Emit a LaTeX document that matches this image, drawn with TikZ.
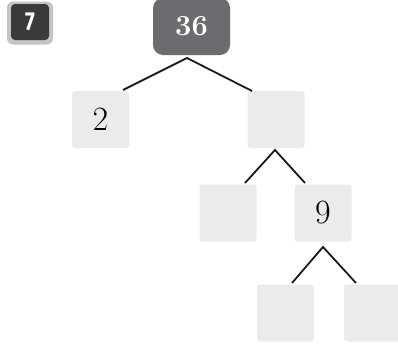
\documentclass[tikz,border=0pt]{standalone}
\usepackage{fontspec}
\newfontfamily\badgefont{Fira Sans}
\definecolor{boxgray}{HTML}{EBEBED}
\definecolor{topgray}{HTML}{6B6B70}
\definecolor{badgedark}{HTML}{3A3A3A}
\definecolor{badgeglow}{HTML}{C4C4C4}
\tikzset{
  numbox/.style={fill=boxgray, rounded corners=3pt, minimum width=57pt, minimum height=57pt, inner sep=0pt, font=\fontsize{34}{34}\selectfont},
  topbox/.style={fill=topgray, rounded corners=10pt, minimum width=77pt, minimum height=57pt, inner sep=0pt, text=white, font=\fontsize{29}{29}\selectfont\bfseries},
  branch/.style={draw=black!90, line width=1.8pt},
}
\begin{document}
\begin{tikzpicture}[x=1pt,y=-1pt]
\useasboundingbox (0,0) rectangle (398,343);
% badge
\node[fill=badgeglow, rounded corners=6pt, minimum width=46pt, minimum height=43pt, inner sep=0pt] (badgeglowbox) at (30,23) {};
\node[fill=badgedark, rounded corners=4pt, minimum width=38pt, minimum height=36pt, inner sep=0pt, text=white, font=\badgefont\fontsize{26}{26}\selectfont\bfseries] (badge) at (30,22) {\scalebox{0.8}[1]{7}};
% boxes
\node[topbox] (top) at (191.5,26.5) {36};
\node[numbox] (b2) at (100.5,119.5) {2};
\node[numbox] (r1) at (276,119.5) {};
\node[numbox] (l2a) at (228,213) {};
\node[numbox] (n9) at (323,213) {9};
\node[numbox] (l3a) at (285.5,313) {};
\node[numbox] (l3b) at (372.5,313) {};
% connector ends
\coordinate (a0) at (187,58);
\coordinate (e0l) at (123,90);
\coordinate (e0r) at (252,91);
\coordinate (a1) at (275,150);
\coordinate (e1l) at (245,183);
\coordinate (e1r) at (305,183);
\coordinate (a2) at (323,247);
\coordinate (e2l) at (292,283);
\coordinate (e2r) at (356,283);
\draw[branch] (e0l) -- (a0) -- (e0r);
\draw[branch] (e1l) -- (a1) -- (e1r);
\draw[branch] (e2l) -- (a2) -- (e2r);
\end{tikzpicture}
\end{document}
